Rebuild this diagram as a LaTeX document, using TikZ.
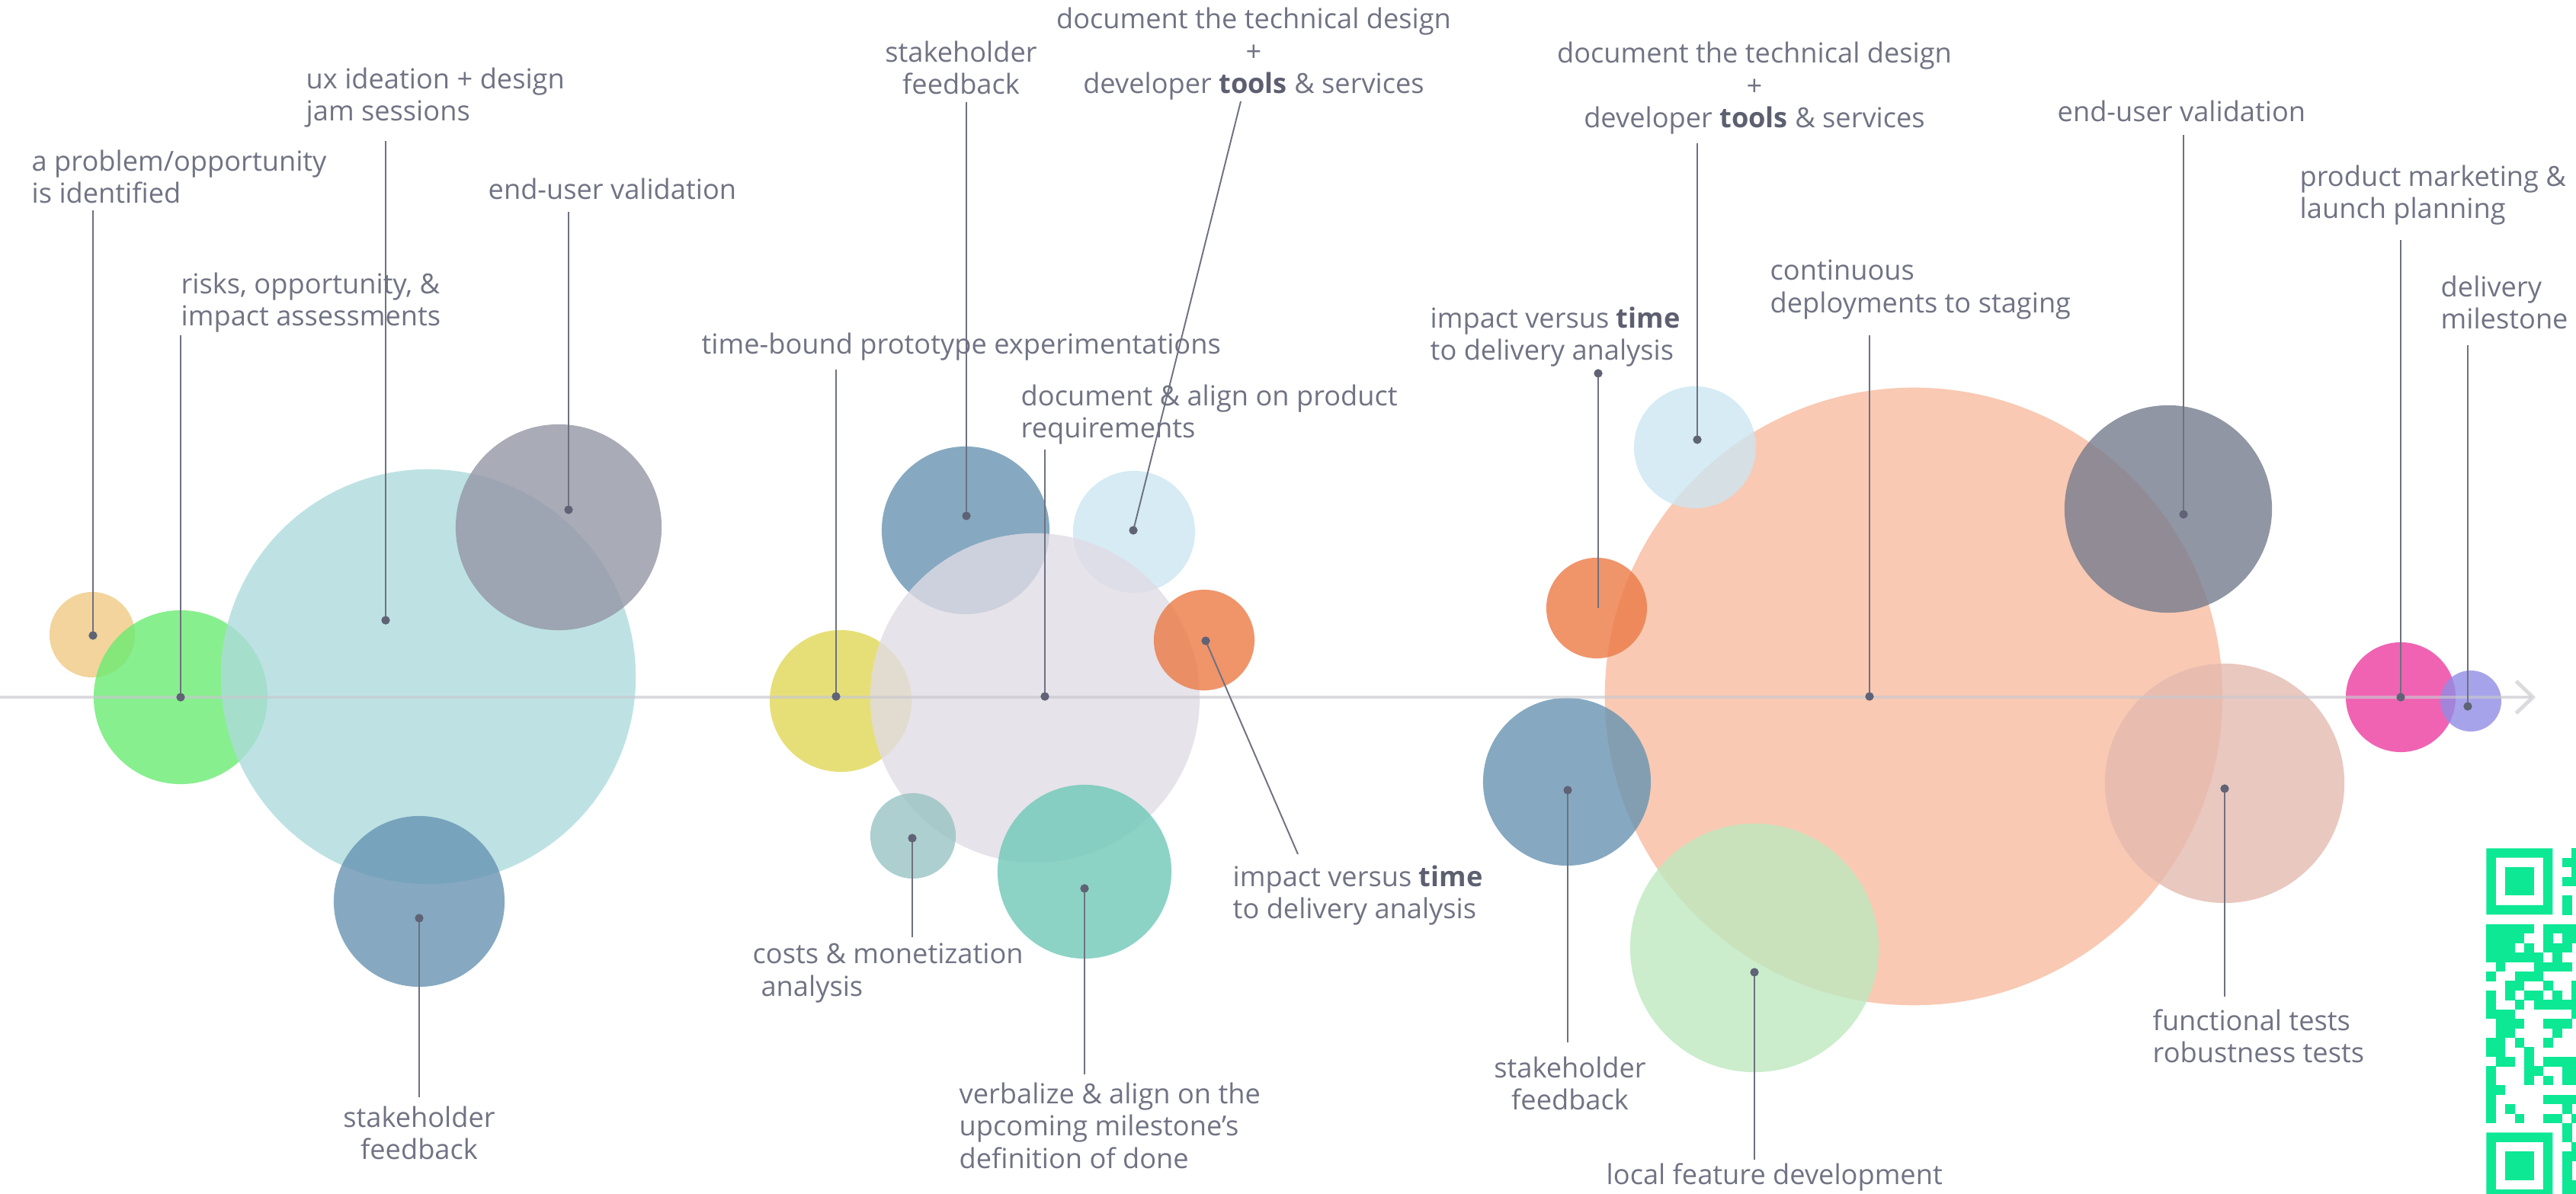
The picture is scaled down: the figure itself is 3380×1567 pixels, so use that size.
\documentclass[tikz,border=0pt]{standalone}
\usepackage{fontspec}
\setmainfont{Open Sans}
\usetikzlibrary{arrows.meta}
\definecolor{txt}{RGB}{112,115,131}
\definecolor{txtb}{RGB}{92,95,112}
\definecolor{dotc}{RGB}{95,99,117}
\definecolor{linec}{RGB}{110,113,128}
\definecolor{axisc}{RGB}{200,200,206}
\definecolor{qrc}{RGB}{12,232,148}
\definecolor{cA}{RGB}{239,201,131}
\definecolor{cB}{RGB}{106,235,114}
\definecolor{cC}{RGB}{174,219,220}
\definecolor{cD}{RGB}{148,150,165}
\definecolor{cE}{RGB}{104,148,178}
\definecolor{cF}{RGB}{224,215,86}
\definecolor{cG}{RGB}{224,220,229}
\definecolor{cH}{RGB}{204,230,241}
\definecolor{cI}{RGB}{236,121,69}
\definecolor{cJ}{RGB}{153,195,195}
\definecolor{cK}{RGB}{111,200,184}
\definecolor{cL}{RGB}{247,188,160}
\definecolor{cM}{RGB}{190,233,191}
\definecolor{cN}{RGB}{118,124,143}
\definecolor{cO}{RGB}{228,186,176}
\definecolor{cP}{RGB}{236,60,160}
\definecolor{cQ}{RGB}{145,140,229}
\newcommand{\bt}[1]{{\bfseries\color{txtb}#1}}
\begin{document}
\begin{tikzpicture}[x=0.01cm,y=-0.01cm,
  bub/.style={circle,inner sep=0pt,draw=none,fill opacity=0.8,minimum size=#1*0.02cm},
  lbl/.style={text=txt,font=\fontsize{10.3pt}{12.1pt}\selectfont,inner sep=0pt,align=left},
  lblc/.style={lbl,align=center},
  conn/.style={draw=linec,line width=0.55pt},
  dotn/.style={circle,fill=dotc,inner sep=0pt,minimum size=0.11cm},
  axisln/.style={draw=axisc,draw opacity=0.65,line width=1.4pt},
  qrm/.style={fill=qrc}]
\useasboundingbox (0,0) rectangle (3380,1567);
\clip (0,0) rectangle (3380,1567);

% ---------- bubbles ----------
\node[bub=56,fill=cA] (c1) at (121,833) {};
\node[bub=114,fill=cB] (c2) at (237,915) {};
\node[bub=272,fill=cC] (c3) at (562,888) {};
\node[bub=135,fill=cD] (c4) at (733,692) {};
\node[bub=112,fill=cE] (c5) at (550,1183) {};

\node[bub=93,fill=cF] (c6) at (1103,920) {};
\node[bub=110,fill=cE] (c7) at (1267,696) {};
\node[bub=80,fill=cH] (c9) at (1488,698) {};
\node[bub=216,fill=cG] (c8) at (1358,916) {};
\node[bub=66,fill=cI] (c10) at (1580,840) {};
\node[bub=56,fill=cJ] (c11) at (1198,1097) {};
\node[bub=114,fill=cK] (c12) at (1423,1144) {};

\node[bub=405,fill=cL] (c16) at (2511,914) {};
\node[bub=80,fill=cH] (c13) at (2224,587) {};
\node[bub=66,fill=cI] (c14) at (2095,798) {};
\node[bub=110,fill=cE] (c15) at (2056,1026) {};
\node[bub=163,fill=cM] (c17) at (2302,1244) {};
\node[bub=136,fill=cN] (c18) at (2845,668) {};
\node[bub=157,fill=cO] (c19) at (2919,1028) {};
\node[bub=72,fill=cP] (c20) at (3150,915) {};
\node[bub=40,fill=cQ] (c21) at (3242,920) {};

% ---------- axis ----------
\coordinate (ax0) at (0,915);
\coordinate (ax1) at (3327,915);
\draw[axisln,-{Straight Barb[length=0.22cm,width=0.42cm,line width=1.4pt]}] (ax0) -- (ax1);

% ---------- labels ----------
\node[lbl,anchor=west] (t1) at (41,232) {a problem/opportunity\\is identified};
\node[lbl,anchor=west] (t2) at (237,397) {risks, opportunity, \&\\impact assessments};
\node[lbl,anchor=west] (t3) at (401,128) {ux ideation + design\\jam sessions};
\node[lbl,anchor=west] (t4) at (640,248) {end-user validation};
\node[lblc] (t5) at (550,1487) {stakeholder\\feedback};
\node[lbl,anchor=west] (t6) at (920,455) {time-bound prototype experimentations};
\node[lblc] (t7) at (1261,89) {stakeholder\\feedback};
\node[lbl,anchor=west] (t8) at (1339,544) {document \& align on product\\requirements};
\node[lblc] (t9) at (1645,71) {document the technical design\\+\\developer \bt{tools} \& services};
\node[lbl,anchor=west] (t10) at (1617,1175) {impact versus \bt{time}\\to delivery analysis};
\node[lbl,anchor=west] (t11) at (987,1277) {costs \& monetization\\\hspace*{0.3em}analysis};
\node[lbl,anchor=west] (t12) at (1258,1477) {verbalize \& align on the\\upcoming milestone{\char"27}s\\definition of done};
\node[lblc] (t13) at (2302,116) {document the technical design\\+\\developer \bt{tools} \& services};
\node[lbl,anchor=west] (t14) at (1876,442) {impact versus \bt{time}\\to delivery analysis};
\node[lbl,anchor=west] (t15) at (2322,380) {continuous\\deployments to staging};
\node[lblc] (t16) at (2060,1422) {stakeholder\\feedback};
\node[lbl,anchor=west] (t17) at (2107,1545) {local feature development};
\node[lbl,anchor=west] (t18) at (2699,146) {end-user validation};
\node[lbl,anchor=west] (t19) at (2824,1360) {functional tests\\robustness tests};
\node[lbl,anchor=west] (t20) at (3017,256) {product marketing \&\\launch planning};
\node[lbl,anchor=west] (t21) at (3202,397) {delivery\\milestone};

% ---------- connectors ----------
\coordinate (e1) at (122,276);   \node[dotn] (d1) at (122,834) {};
\coordinate (e2) at (237,440);   \node[dotn] (d2) at (237,915) {};
\coordinate (e3) at (506,185);   \node[dotn] (d3) at (506,814) {};
\coordinate (e4) at (746,278);   \node[dotn] (d4) at (746,669) {};
\coordinate (e5) at (550,1440);  \node[dotn] (d5) at (550,1205) {};
\coordinate (e6) at (1097,485);  \node[dotn] (d6) at (1097,914) {};
\coordinate (e7) at (1268,134);  \node[dotn] (d7) at (1268,677) {};
\coordinate (e8) at (1371,590);  \node[dotn] (d8) at (1371,914) {};
\coordinate (e9) at (1628,133);  \node[dotn] (d9) at (1487,696) {};
\coordinate (e10) at (1703,1121);\node[dotn] (d10) at (1582,841) {};
\coordinate (e11) at (1197,1230);\node[dotn] (d11) at (1197,1100) {};
\coordinate (e12) at (1423,1410);\node[dotn] (d12) at (1423,1166) {};
\coordinate (e13) at (2227,188); \node[dotn] (d13) at (2227,577) {};
\coordinate (e14) at (2097,798); \node[dotn] (d14) at (2097,490) {};
\coordinate (e15) at (2057,1368);\node[dotn] (d15) at (2057,1037) {};
\coordinate (e16) at (2453,440); \node[dotn] (d16) at (2453,914) {};
\coordinate (e17) at (2302,1522);\node[dotn] (d17) at (2302,1276) {};
\coordinate (e18) at (2865,177); \node[dotn] (d18) at (2865,675) {};
\coordinate (e19) at (2919,1308);\node[dotn] (d19) at (2919,1035) {};
\coordinate (e20) at (3150,315); \node[dotn] (d20) at (3150,915) {};
\coordinate (e21) at (3238,453); \node[dotn] (d21) at (3238,927) {};
\foreach \i in {1,...,21} { \draw[conn] (d\i.center) -- (e\i); }
\foreach \i in {1,...,21} { \node[dotn] at (d\i) {}; }

% ---------- QR code (partly cut by the right edge) ----------
\begin{scope}[shift={(3262.3,1113.3)},x=0.1243cm,y=-0.1243cm]
  \foreach \oy in {0,30} {
    \fill[qrc,even odd rule] (0,\oy) rectangle (7,\oy+7) (1,\oy+1) rectangle (6,\oy+6);
    \fill[qrc] (2,\oy+2) rectangle (5,\oy+5);
  }
  \foreach \r/\cs in {0/{9},1/{8,9},2/{9},3/{8,9},5/{8},6/{8},
     8/{0,1,2,3,4,6,7,8,9},9/{0,1,2,3,6,8,9},10/{0,1,2,4,6,7,8},
     11/{0,1,2,3,4,5,7},12/{1,5,6,7,8},13/{0,3,4,5},14/{2,3,6,9},
     15/{0,2,4,5,7,9},16/{0,3,5,6,7,8,9},17/{0,1,2,9},18/{1,2,3,6,7,8},
     19/{1,2,7},20/{0,1,3,6},21/{0,1,4},22/{1,2,4,6,7,8,9},23/{0,4,5,8,9},
     24/{0,4,6,8,9},25/{0,1},26/{0,6,7,8,9},27/{0,2,8},28/{0,3,6,7,9},
     29/{8},30/{8},31/{9},32/{8,9},33/{8},34/{8},35/{8,9},36/{8,9}} {
    \foreach \c in \cs { \fill[qrc] (\c,\r) rectangle (\c+1.02,\r+1.02); }
  }
\end{scope}
\end{tikzpicture}
\end{document}
